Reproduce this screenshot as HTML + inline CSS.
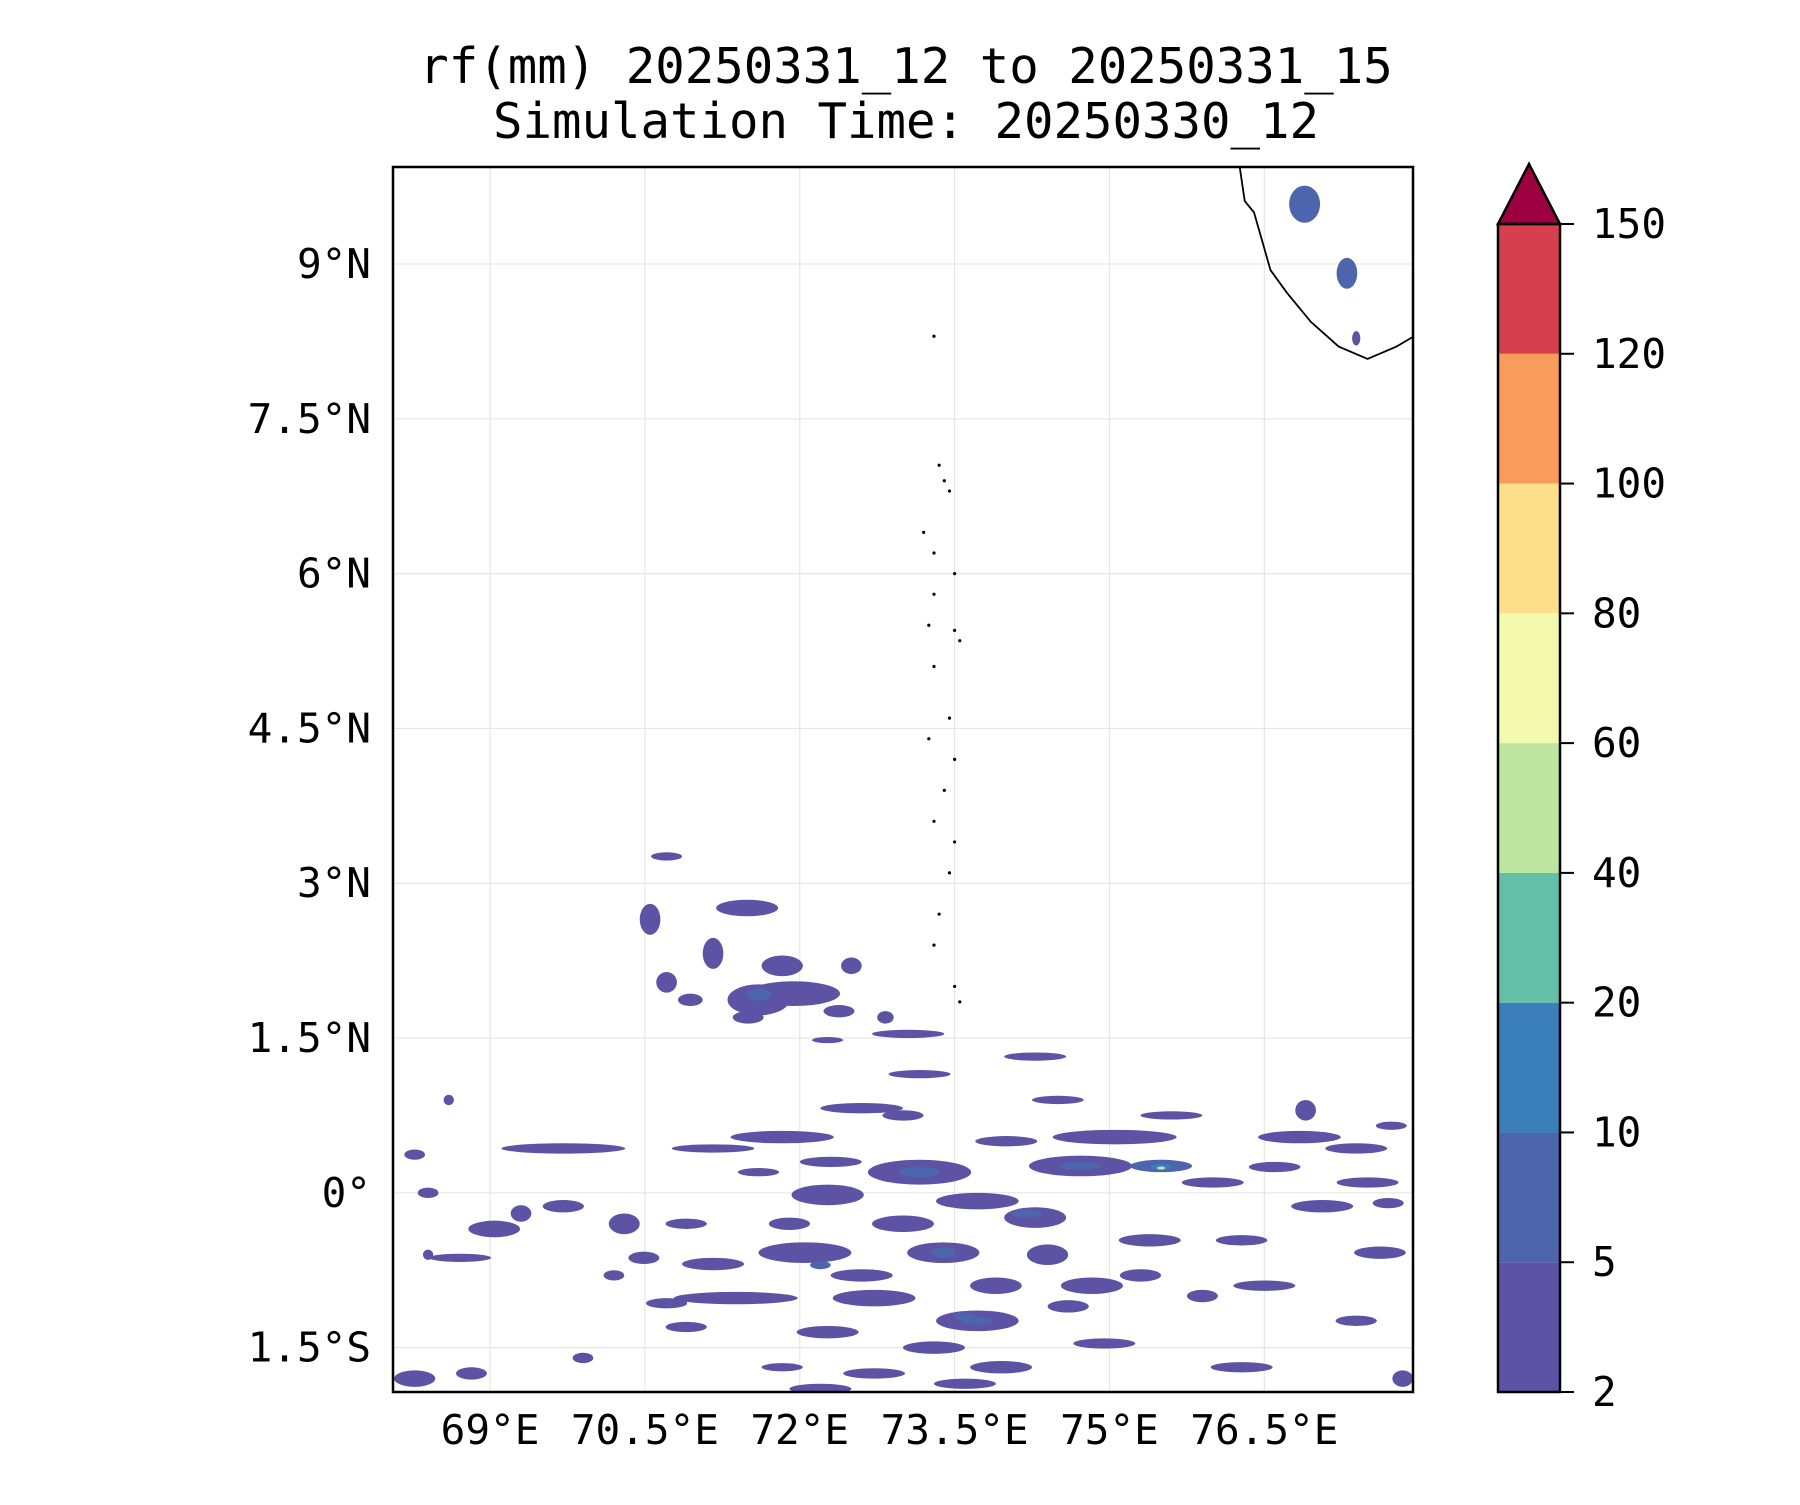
<!DOCTYPE html>
<html><head><meta charset="utf-8">
<style>
body{margin:0;background:#fff;}
svg text{font-family:"DejaVu Sans Mono","Liberation Mono",monospace;fill:#000;}
</style></head>
<body>
<svg id="chart" width="1800" height="1500" viewBox="0 0 1800 1500" xmlns="http://www.w3.org/2000/svg">
<text x="906" y="83" font-size="49" text-anchor="middle">rf(mm) 20250331_12 to 20250331_15</text>
<text x="906" y="138" font-size="49" text-anchor="middle">Simulation Time: 20250330_12</text>
<g id="grid"></g>
<g id="rain"></g>
<g id="coast"></g>
<rect x="393" y="167" width="1020" height="1225" fill="none" stroke="#000" stroke-width="2.5"/>
<g id="axes"></g>
<g id="cbar"></g>
</svg>
<script>
const lonTicks=[69,70.5,72,73.5,75,76.5];
const lonTickLabels=["69°E","70.5°E","72°E","73.5°E","75°E","76.5°E"];
const latTicks=[9,7.5,6,4.5,3,1.5,0,-1.5];
const latTickLabels=["9°N","7.5°N","6°N","4.5°N","3°N","1.5°N","0°","1.5°S"];
const levels=[2,5,10,20,40,60,80,100,120,150];
const levelColors=["#5c53a5","#4d65ad","#3a7fb9","#63bfa7","#bde5a0","#f3faad","#fdde8b","#f99b5a","#d6404e"];
const extendColor="#9e0142";
// blobs: lon, lat, rx (deg), ry (deg), level index
const blobLon=[70.71,70.55,71.49,71.16,71.83,71.94,71.6,71.6,70.94,70.71,72.38,72.83,73.05,72.27,73.16,69.71,71.83,72.6,71.16,74.28,75.05,75.5,75.5,75.5,74.72,74.72,76.84,77.39,77.73,73.16,73.16,72.27,73.72,74.28,73.39,73.39,72.05,71.16,70.49,69.04,68.71,68.27,69.71,71.38,72.72,73.72,73.72,74.83,75.39,76.28,77.06,77.62,76.5,77.39,72.27,73.95,72.72,71.83,74.95,76.28,68.27,68.82,77.84,70.71,76.89,77.3,77.39,
73.0,72.6,73.9,74.4,74.0,73.0,72.3,71.6,70.3,69.3,70.9,71.9,74.6,75.3,75.9,76.0,76.6,77.5,77.7,76.9,75.6,74.5,73.3,73.6,72.2,70.9,69.9,68.4,68.6,68.4,70.2,72.5,71.5,74.2,73.6,72.2];
const blobLat=[3.26,2.65,2.76,2.32,2.2,1.93,1.87,1.92,1.87,2.04,1.76,1.7,1.54,1.48,1.15,0.43,0.54,0.82,0.43,1.32,0.54,0.26,0.25,0.24,0.26,0.26,0.54,0.43,0.65,0.2,0.2,-0.02,-0.08,-0.24,-0.58,-0.58,-0.58,-0.69,-0.63,-0.35,-0.63,0.37,-0.13,-1.02,-1.02,-1.24,-1.24,-0.9,-0.46,-0.46,-0.13,-0.58,-0.9,-1.24,-1.35,-1.69,-1.75,-1.69,-1.46,-1.69,-1.8,-1.75,-1.8,-1.07,9.58,8.91,8.28,
-0.3,-0.8,-0.9,-0.6,0.5,0.75,0.3,0.2,-0.3,-0.2,-0.3,-0.3,-1.1,-0.8,-1.0,0.1,0.25,0.1,-0.1,0.8,0.75,0.9,-1.5,-1.85,-1.9,-1.3,-1.6,0.0,0.9,-0.6,-0.8,2.2,1.7,-0.2,-1.2,-0.7];
const blobRx=[0.15,0.1,0.3,0.1,0.2,0.45,0.3,0.12,0.12,0.1,0.15,0.08,0.35,0.15,0.3,0.6,0.5,0.4,0.4,0.3,0.6,0.3,0.1,0.04,0.5,0.2,0.4,0.3,0.15,0.5,0.2,0.35,0.4,0.3,0.35,0.12,0.45,0.3,0.15,0.25,0.3,0.1,0.2,0.6,0.4,0.4,0.15,0.3,0.3,0.25,0.3,0.25,0.3,0.2,0.3,0.3,0.3,0.2,0.3,0.3,0.2,0.15,0.1,0.2,0.15,0.1,0.04,
0.3,0.3,0.25,0.2,0.3,0.2,0.3,0.2,0.15,0.1,0.2,0.2,0.2,0.2,0.15,0.3,0.25,0.3,0.15,0.1,0.3,0.25,0.3,0.3,0.3,0.2,0.1,0.1,0.05,0.05,0.1,0.1,0.15,0.15,0.1,0.1];
const blobRy=[0.04,0.15,0.08,0.15,0.1,0.12,0.15,0.06,0.06,0.1,0.06,0.06,0.04,0.03,0.04,0.05,0.06,0.05,0.04,0.04,0.07,0.06,0.03,0.015,0.1,0.04,0.06,0.05,0.04,0.12,0.05,0.1,0.08,0.1,0.1,0.05,0.1,0.06,0.06,0.08,0.04,0.05,0.06,0.06,0.08,0.1,0.04,0.08,0.06,0.05,0.06,0.06,0.05,0.05,0.06,0.06,0.05,0.04,0.05,0.05,0.08,0.06,0.08,0.05,0.18,0.15,0.07,
0.08,0.06,0.08,0.1,0.05,0.05,0.05,0.04,0.1,0.08,0.05,0.06,0.06,0.06,0.06,0.05,0.05,0.05,0.05,0.1,0.04,0.04,0.06,0.05,0.05,0.05,0.05,0.05,0.05,0.05,0.05,0.08,0.06,0.04,0.04,0.04];
const blobLevel=[0,0,0,0,0,0,0,1,0,0,0,0,0,0,0,0,0,0,0,0,0,1,2,4,0,1,0,0,0,0,1,0,0,0,0,1,0,0,0,0,0,0,0,0,0,0,1,0,0,0,0,0,0,0,0,0,0,0,0,0,0,0,0,0,1,1,0,
0,0,0,0,0,0,0,0,0,0,0,0,0,0,0,0,0,0,0,0,0,0,0,0,0,0,0,0,0,0,0,0,0,1,1,1];
const coastLon=[76.26,76.31,76.4,76.48,76.56,76.72,76.95,77.22,77.5,77.78,77.95];
const coastLat=[9.95,9.61,9.5,9.22,8.94,8.72,8.44,8.2,8.08,8.2,8.3];
const islandLon=[73.3,73.35,73.4,73.45,73.2,73.3,73.5,73.3,73.25,73.5,73.55,73.3,73.45,73.25,73.5,73.4,73.3,73.5,73.45,73.35,73.5,73.3,73.55];
const islandLat=[8.3,7.05,6.9,6.8,6.4,6.2,6.0,5.8,5.5,5.45,5.35,5.1,4.6,4.4,4.2,3.9,3.6,3.4,3.1,2.7,2.0,2.4,1.85];

const NS="http://www.w3.org/2000/svg";
const L=393,T=167,R=1413,B=1392;
const lonMin=68.06,lonMax=77.94,latMin=-1.93,latMax=9.94;
const xs=v=>L+(v-lonMin)/(lonMax-lonMin)*(R-L);
const ys=v=>B-(v-latMin)/(latMax-latMin)*(B-T);
function mk(tag,attrs,parent){const e=document.createElementNS(NS,tag);for(const k in attrs)e.setAttribute(k,attrs[k]);parent.appendChild(e);return e;}
const grid=document.getElementById('grid'),axes=document.getElementById('axes');
lonTicks.forEach((v,i)=>{
 const g=mk('line',{x1:xs(v),x2:xs(v),y1:T,y2:B,stroke:'#e6e6e6','stroke-width':1.2},grid);
 
 
 const t=mk('text',{x:xs(v),y:B+52,'font-size':41,'text-anchor':'middle'},axes);
 t.textContent=lonTickLabels[i];
 
 
});
latTicks.forEach((v,i)=>{
 const g=mk('line',{x1:L,x2:R,y1:ys(v),y2:ys(v),stroke:'#e6e6e6','stroke-width':1.2},grid);
 
 
 const t=mk('text',{x:L-22,y:ys(v)+14,'font-size':41,'text-anchor':'end'},axes);
 t.textContent=latTickLabels[i];
 
 
});
const rain=document.getElementById('rain');
const clip=mk('clipPath',{id:'clp'},mk('defs',{},rain));
mk('rect',{x:L,y:T,width:R-L,height:B-T},clip);
const rg=mk('g',{'clip-path':'url(#clp)'},rain);
const pxLon=(R-L)/(lonMax-lonMin),pxLat=(B-T)/(latMax-latMin);
const order=blobLevel.map((l,i)=>i).sort((a,b)=>blobLevel[a]-blobLevel[b]);
order.forEach(i=>{
 const e=mk('ellipse',{cx:xs(blobLon[i]),cy:ys(blobLat[i]),rx:blobRx[i]*pxLon,ry:blobRy[i]*pxLat,fill:levelColors[blobLevel[i]]},rg);
 
 
});
const coast=document.getElementById('coast');
const cp=mk('polyline',{points:coastLon.map((v,i)=>xs(v)+','+ys(coastLat[i])).join(' '),fill:'none',stroke:'#000','stroke-width':1.8},coast);


islandLon.forEach((v,i)=>{
 const d=mk('circle',{cx:xs(v),cy:ys(islandLat[i]),r:1.6,fill:'#000'},coast);
 
 
});
const cb=document.getElementById('cbar');
const cL=1498,cR=1560,cT=224,cB=1392,seg=(cB-cT)/(levels.length-1);
levelColors.forEach((c,i)=>{
 const r=mk('rect',{x:cL,y:cB-(i+1)*seg,width:cR-cL,height:seg,fill:c},cb);
 
 
});
const tri=mk('polygon',{points:`${cL},${cT} ${cR},${cT} ${(cL+cR)/2},164`,fill:extendColor,stroke:'#000','stroke-width':2.5},cb);


mk('rect',{x:cL,y:cT,width:cR-cL,height:cB-cT,fill:'none',stroke:'#000','stroke-width':2.5},cb);
levels.forEach((v,i)=>{
 const y=cB-i*seg;
 mk('line',{x1:cR,x2:cR+14,y1:y,y2:y,stroke:'#000','stroke-width':2},cb);
 const t=mk('text',{x:1592,y:y+14,'font-size':41},cb);
 t.textContent=v;
 
 
});
</script>
</body></html>
